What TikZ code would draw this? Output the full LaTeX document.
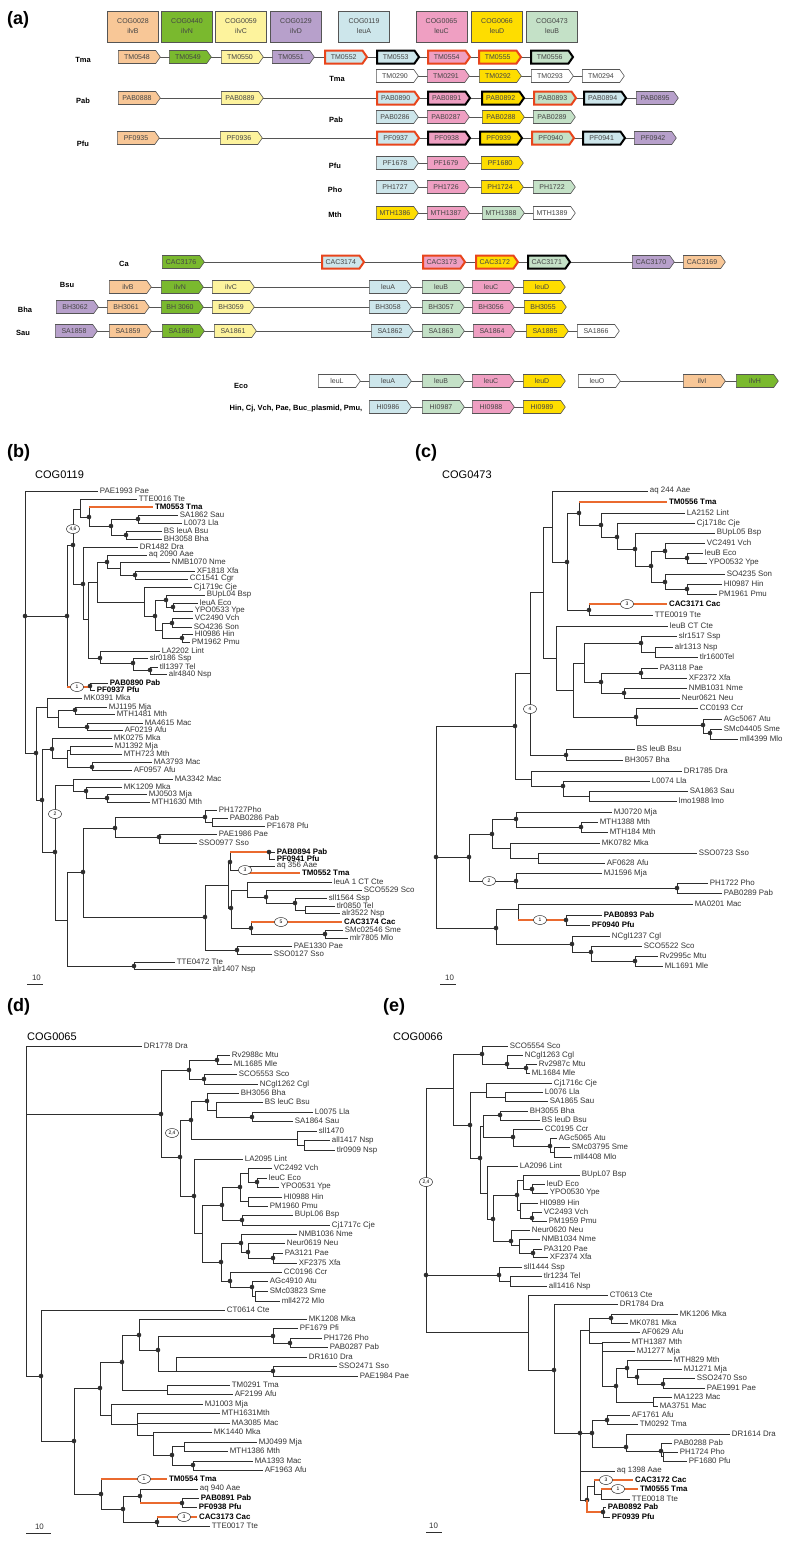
\documentclass[tikz,border=0pt]{standalone}
\usepackage{fontspec}
\setmainfont{Liberation Sans}
\usetikzlibrary{shapes.geometric,shapes.symbols}
\pgfdeclarelayer{bg}
\pgfsetlayers{bg,main}
\definecolor{cB}{HTML}{F8C797}
\definecolor{cN}{HTML}{7AB92E}
\definecolor{cC}{HTML}{FDF39D}
\definecolor{cD}{HTML}{B7A0CB}
\definecolor{cA}{HTML}{CDE6EB}
\definecolor{cL}{HTML}{EF9FC2}
\definecolor{cY}{HTML}{FEDD00}
\definecolor{cG}{HTML}{C4E1C7}
\definecolor{gred}{HTML}{E8451C}
\definecolor{lc}{HTML}{2E2E2E}
\definecolor{rc}{HTML}{EA6A2F}
\definecolor{gc}{HTML}{555555}
\definecolor{tg}{HTML}{444444}
\definecolor{tc}{HTML}{333333}
\tikzset{
 tl/.style={draw=lc, line width=0.8pt},
 rl/.style={draw=rc, line width=1.1pt},
 lab/.style={anchor=west, inner sep=0pt, xshift=1.5pt, font=\fontsize{7.9}{8}\selectfont, text=tc},
 labb/.style={anchor=west, inner sep=0pt, xshift=1.5pt, font=\fontsize{7.9}{8}\selectfont\bfseries, text=black},
 ell/.style={ellipse, draw=lc, fill=white, line width=0.5pt, inner sep=0.3pt, minimum width=13pt, minimum height=9pt, font=\fontsize{5}{5}\selectfont},
 gene/.style={signal, signal to=east, signal pointer angle=110, draw=gc, line width=0.6pt, minimum width=42pt, minimum height=13pt, inner sep=0pt, font=\fontsize{7}{7}\selectfont, text=tg, anchor=west},
 rb/.style={draw=gred, line width=2pt},
 bb/.style={draw=black, line width=2pt},
 rowl/.style={draw=gc, line width=0.8pt},
 glab/.style={font=\fontsize{7.5}{8}\selectfont\bfseries, inner sep=0pt},
 plab/.style={font=\fontsize{18}{18}\selectfont\bfseries, anchor=west, inner sep=0pt},
 cog/.style={font=\fontsize{11}{11}\selectfont, anchor=west, inner sep=0pt},
 legb/.style={draw=gc, line width=0.6pt, minimum width=51pt, minimum height=31pt, align=center, inner sep=0pt, font=\fontsize{7}{10}\selectfont, text=tg},
}
\newcommand\tlf[4]{\draw[tl] (#1,#3) -- (#2,#3) node[lab] {#4};}
\newcommand\tlb[4]{\draw[tl] (#1,#3) -- (#2,#3) node[labb] {#4};}
\newcommand\tlr[4]{\draw[rl] (#1,#3) -- (#2,#3) node[labb] {#4};}
\newcommand\tvl[3]{\draw[tl] (#1,#2) -- (#1,#3);}
\newcommand\thl[3]{\draw[tl] (#1,#3) -- (#2,#3);}
\newcommand\tdt[2]{\fill[lc] (#1,#2) circle (2.3pt);}
\newcommand\tel[3]{\node[ell] at (#1,#2) {#3};}
\newcommand\gn[6][]{\node[gene,fill=#5,#1] (#2) at (#3,#4) {#6};}
\newcommand\glink[2]{\begin{pgfonlayer}{bg}\draw[rowl] (#1.center) -- (#2.center);\end{pgfonlayer}}
\begin{document}
\begin{tikzpicture}[x=1pt,y=-1pt]
\path[use as bounding box] (0,0) rectangle (800,1548);
% ================= (a)
\node[plab] (pa) at (7,20) {(a)};
\node[legb,fill=cB] (L1) at (133,26.5) {COG0028\\ilvB};
\node[legb,fill=cN] (L2) at (187,26.5) {COG0440\\ilvN};
\node[legb,fill=cC] (L3) at (241,26.5) {COG0059\\ilvC};
\node[legb,fill=cD] (L4) at (296,26.5) {COG0129\\ilvD};
\node[legb,fill=cA] (L5) at (364,26.5) {COG0119\\leuA};
\node[legb,fill=cL] (L6) at (441.5,26.5) {COG0065\\leuC};
\node[legb,fill=cY] (L7) at (497,26.5) {COG0066\\leuD};
\node[legb,fill=cG] (L8) at (552,26.5) {COG0473\\leuB};
% row labels
\node[glab] (r1) at (83,60) {Tma};
\node[glab] (r2) at (337,79) {Tma};
\node[glab] (r3) at (83,101) {Pab};
\node[glab] (r4) at (336,120) {Pab};
\node[glab] (r5) at (83,144) {Pfu};
\node[glab] (r6) at (335,166) {Pfu};
\node[glab] (r7) at (335,190) {Pho};
\node[glab] (r8) at (335,215) {Mth};
\node[glab] (r9) at (124,264) {Ca};
\node[glab] (r10) at (67,285) {Bsu};
\node[glab] (r11) at (25,310) {Bha};
\node[glab] (r12) at (23,333) {Sau};
\node[glab] (r13) at (241,386) {Eco};
\node[glab] (r14) at (296,409) {Hin, Cj, Vch, Pae, Buc\_plasmid, Pmu,};
% Tma1
\gn{a1}{118}{57}{cB}{TM0548}
\gn{a2}{169}{57}{cN}{TM0549}
\gn{a3}{221}{57}{cC}{TM0550}
\gn{a4}{272}{57}{cD}{TM0551}
\gn[rb]{a5}{324}{57}{cA}{TM0552}
\gn[bb]{a6}{376}{57}{cA}{TM0553}
\gn[rb]{a7}{427}{57}{cL}{TM0554}
\gn[rb]{a8}{478}{57}{cY}{TM0555}
\gn[bb]{a9}{530}{57}{cG}{TM0556}
\glink{a1}{a9}
% Tma2
\gn{b1}{376}{76}{white}{TM0290}
\gn{b2}{427}{76}{cL}{TM0291}
\gn{b3}{479}{76}{cY}{TM0292}
\gn{b4}{531}{76}{white}{TM0293}
\gn{b5}{582}{76}{white}{TM0294}
\glink{b1}{b5}
% Pab1
\gn{c1}{118}{98}{cB}{PAB0888}
\gn{c2}{221}{98}{cC}{PAB0889}
\gn[rb]{c3}{376}{98}{cA}{PAB0890}
\gn[bb]{c4}{427}{98}{cL}{PAB0891}
\gn[bb]{c5}{481}{98}{cY}{PAB0892}
\gn[rb]{c6}{533}{98}{cG}{PAB0893}
\gn[bb]{c7}{583}{98}{cA}{PAB0894}
\gn{c8}{636}{98}{cD}{PAB0895}
\glink{c1}{c8}
% Pab2
\gn{d1}{376}{117}{cA}{PAB0286}
\gn{d2}{427}{117}{cL}{PAB0287}
\gn{d3}{482}{117}{cY}{PAB0288}
\gn{d4}{533}{117}{cG}{PAB0289}
\glink{d1}{d4}
% Pfu1
\gn{e1}{117}{138}{cB}{PF0935}
\gn{e2}{220}{138}{cC}{PF0936}
\gn[rb]{e3}{376}{138}{cA}{PF0937}
\gn[bb]{e4}{427}{138}{cL}{PF0938}
\gn[bb]{e5}{479}{138}{cY}{PF0939}
\gn[rb]{e6}{531}{138}{cG}{PF0940}
\gn[bb]{e7}{582}{138}{cA}{PF0941}
\gn{e8}{634}{138}{cD}{PF0942}
\glink{e1}{e8}
% Pfu2
\gn{f1}{376}{163}{cA}{PF1678}
\gn{f2}{427}{163}{cL}{PF1679}
\gn{f3}{481}{163}{cY}{PF1680}
\glink{f1}{f3}
% Pho
\gn{g1}{376}{187}{cA}{PH1727}
\gn{g2}{427}{187}{cL}{PH1726}
\gn{g3}{481}{187}{cY}{PH1724}
\gn{g4}{533}{187}{cG}{PH1722}
\glink{g1}{g4}
% Mth
\gn{h1}{376}{213}{cY}{MTH1386}
\gn{h2}{427}{213}{cL}{MTH1387}
\gn{h3}{482}{213}{cG}{MTH1388}
\gn{h4}{533}{213}{white}{MTH1389}
\glink{h1}{h4}
% Ca
\gn{i1}{162}{262}{cN}{CAC3176}
\gn[rb]{i2}{321}{262}{cA}{CAC3174}
\gn[rb]{i3}{422}{262}{cL}{CAC3173}
\gn[rb]{i4}{475}{262}{cY}{CAC3172}
\gn[bb]{i5}{527}{262}{cG}{CAC3171}
\gn{i6}{632}{262}{cD}{CAC3170}
\gn{i7}{683}{262}{cB}{CAC3169}
\glink{i1}{i7}
% Bsu
\gn{j1}{109}{287}{cB}{ilvB}
\gn{j2}{161}{287}{cN}{ilvN}
\gn{j3}{212}{287}{cC}{ilvC}
\gn{j4}{369}{287}{cA}{leuA}
\gn{j5}{422}{287}{cG}{leuB}
\gn{j6}{472}{287}{cL}{leuC}
\gn{j7}{523}{287}{cY}{leuD}
\glink{j1}{j7}
% Bha
\gn{k1}{56}{307}{cD}{BH3062}
\gn{k2}{107}{307}{cB}{BH3061}
\gn{k3}{161}{307}{cN}{BH 3060}
\gn{k4}{212}{307}{cC}{BH3059}
\gn{k5}{369}{307}{cA}{BH3058}
\gn{k6}{422}{307}{cG}{BH3057}
\gn{k7}{472}{307}{cL}{BH3056}
\gn{k8}{524}{307}{cY}{BH3055}
\glink{k1}{k8}
% Sau
\gn{l1}{55}{331}{cD}{SA1858}
\gn{l2}{109}{331}{cB}{SA1859}
\gn{l3}{162}{331}{cN}{SA1860}
\gn{l4}{214}{331}{cC}{SA1861}
\gn{l5}{371}{331}{cA}{SA1862}
\gn{l6}{422}{331}{cG}{SA1863}
\gn{l7}{473}{331}{cL}{SA1864}
\gn{l8}{526}{331}{cY}{SA1885}
\gn{l9}{577}{331}{white}{SA1866}
\glink{l1}{l9}
% Eco
\gn{m1}{318}{381}{white}{leuL}
\gn{m2}{369}{381}{cA}{leuA}
\gn{m3}{422}{381}{cG}{leuB}
\gn{m4}{472}{381}{cL}{leuC}
\gn{m5}{523}{381}{cY}{leuD}
\gn{m6}{578}{381}{white}{leuO}
\gn{m7}{683}{381}{cB}{ilvI}
\gn{m8}{736}{381}{cN}{ilvH}
\glink{m1}{m5}
\glink{m6}{m8}
% Hin
\gn{n1}{369}{407}{cA}{HI0986}
\gn{n2}{422}{407}{cG}{HI0987}
\gn{n3}{472}{407}{cL}{HI0988}
\gn{n4}{523}{407}{cY}{HI0989}
\glink{n1}{n4}
% ================= (b)
\node[plab] (pb) at (7,453) {(b)};
\node[cog] (cb) at (35,475) {COG0119};
\tvl{25}{491}{753}
\tlf{25}{98}{491}{PAE1993 Pae}
\thl{25}{67}{616}\tdt{25}{616}\tdt{67}{616}
\tvl{67}{545}{687}
\thl{67}{73}{545}\tdt{73}{545}
\draw[rl] (67,687) -- (90,687);\tdt{90}{686}
\tvl{90}{683}{690}
\tlb{90}{108}{683}{PAB0890 Pab}
\tlb{90}{95}{690}{PF0937 Pfu}
\tvl{73}{509}{584}
\thl{73}{80}{509}
\tvl{80}{499}{517}
\tlf{80}{137}{499}{TTE0016 Tte}
\thl{80}{89}{517}\tdt{89}{517}
\tvl{89}{507}{526}
\tlr{89}{153}{507}{TM0553 Tma}
\thl{89}{111}{526}\tdt{111}{526}
\tvl{111}{519}{535}
\thl{111}{138}{519}\tdt{138}{519}
\tvl{138}{515}{523}
\tlf{138}{178}{515}{SA1862 Sau}
\tlf{138}{182}{523}{L0073 Lla}
\thl{111}{126}{535}\tdt{126}{535}
\tvl{126}{531}{539}
\tlf{126}{162}{531}{BS leuA Bsu}
\tlf{126}{162}{539}{BH3058 Bha}
\thl{73}{83}{584}\tdt{83}{584}
\tvl{83}{547}{619}
\tlf{83}{138}{547}{DR1482 Dra}
\thl{83}{88}{619}
\tvl{88}{582}{658}
\thl{88}{97}{582}
\tvl{97}{562}{602}
\thl{97}{107}{562}\tdt{107}{562}
\tvl{107}{555}{568}
\tlf{107}{147}{555}{aq 2090 Aae}
\thl{107}{120}{568}
\tvl{120}{562}{575}
\tlf{120}{170}{562}{NMB1070 Nme}
\thl{120}{135}{575}\tdt{135}{575}
\tvl{135}{571}{579}
\tlf{135}{195}{571}{XF1818 Xfa}
\tlf{135}{188}{579}{CC1541 Cgr}
\thl{97}{144}{602}
\tvl{144}{587}{616}
\tlf{144}{192}{587}{Cj1719c Cje}
\thl{144}{155}{616}\tdt{155}{616}
\tvl{155}{600}{630}
\thl{155}{166}{600}\tdt{166}{600}
\tvl{166}{595}{607}
\tlf{166}{205}{595}{BUpL04 Bsp}
\thl{166}{173}{607}\tdt{173}{607}
\tvl{173}{603}{611}
\tlf{173}{198}{603}{leuA Eco}
\tlf{173}{193}{611}{YPO0533 Ype}
\thl{155}{162}{630}
\tvl{162}{623}{638}
\thl{162}{172}{623}\tdt{172}{623}
\tvl{172}{618}{627}
\tlf{172}{193}{618}{VC2490 Vch}
\tlf{172}{192}{627}{SO4236 Son}
\thl{162}{182}{638}\tdt{182}{638}
\tvl{182}{634}{642}
\tlf{182}{193}{634}{HI0986 Hin}
\tlf{182}{190}{642}{PM1962 Pmu}
\thl{88}{100}{658}\tdt{100}{658}
\tvl{100}{651}{663}
\tlf{100}{160}{651}{LA2202 Lint}
\thl{100}{133}{663}\tdt{133}{663}
\tvl{133}{658}{670}
\tlf{133}{148}{658}{slr0186 Ssp}
\thl{133}{150}{670}\tdt{150}{670}
\tvl{150}{667}{674}
\tlf{150}{158}{667}{tll1397 Tel}
\tlf{150}{167}{674}{alr4840 Nsp}
\thl{25}{36}{753}\tdt{36}{753}
\tvl{36}{707}{800}
\thl{36}{47}{707}
\tvl{47}{698}{717}
\tlf{47}{82}{698}{MK0391 Mka}
\thl{47}{58}{717}
\tvl{58}{710}{727}
\thl{58}{75}{710}\tdt{75}{710}
\tvl{75}{707}{714}
\tlf{75}{107}{707}{MJ1195 Mja}
\tlf{75}{115}{714}{MTH1481 Mth}
\thl{58}{87}{727}\tdt{87}{727}
\tvl{87}{723}{730}
\tlf{87}{143}{723}{MA4615 Mac}
\tlf{87}{123}{730}{AF0219 Afu}
\thl{36}{42}{800}\tdt{42}{800}
\tvl{42}{749}{852}
\thl{42}{52}{749}\tdt{52}{749}
\tvl{52}{738}{758}
\tlf{52}{112}{738}{MK0275 Mka}
\thl{52}{67}{758}
\tvl{67}{750}{767}
\thl{67}{70}{750}
\tvl{70}{746}{754}
\tlf{70}{113}{746}{MJ1392 Mja}
\tlf{70}{122}{754}{MTH723 Mth}
\thl{67}{92}{767}\tdt{92}{767}
\tvl{92}{762}{770}
\tlf{92}{152}{762}{MA3793 Mac}
\tlf{92}{132}{770}{AF0957 Afu}
\thl{42}{55}{852}\tdt{55}{852}
\tvl{55}{785}{920}
\thl{55}{73}{785}
\tvl{73}{779}{791}
\tlf{73}{173}{779}{MA3342 Mac}
\thl{73}{86}{791}\tdt{86}{791}
\tvl{86}{787}{798}
\tlf{86}{122}{787}{MK1209 Mka}
\thl{86}{107}{798}\tdt{107}{798}
\tvl{107}{794}{802}
\tlf{107}{147}{794}{MJ0503 Mja}
\tlf{107}{150}{802}{MTH1630 Mth}
\thl{55}{67}{920}
\tvl{67}{872}{966}
\thl{67}{83}{872}\tdt{83}{872}
\tvl{83}{828}{917}
\thl{83}{115}{828}\tdt{115}{828}
\tvl{115}{817}{837}
\thl{115}{205}{817}\tdt{205}{817}
\tvl{205}{810}{822}
\tlf{205}{217}{810}{PH1727Pho}
\thl{205}{212}{822}
\tvl{212}{818}{826}
\tlf{212}{228}{818}{PAB0286 Pab}
\tlf{212}{265}{826}{PF1678 Pfu}
\thl{115}{159}{837}\tdt{159}{837}
\tvl{159}{834}{843}
\tlf{159}{217}{834}{PAE1986 Pae}
\tlf{159}{197}{843}{SSO0977 Sso}
\thl{83}{205}{917}\tdt{205}{917}
\tvl{205}{885}{950}
\thl{205}{228}{885}
\tvl{228}{862}{908}
\thl{228}{230}{862}\tdt{230}{862}
\tvl{230}{852}{870}
\draw[rl] (230,852) -- (269,852);\tdt{269}{852}
\tvl{269}{852}{859}
\tlb{269}{275}{852}{PAB0894 Pab}
\tlb{269}{275}{859}{PF0941 Pfu}
\thl{230}{245}{870}
\tvl{245}{866}{873}
\tlf{245}{275}{866}{aq 356 Aae}
\tlr{245}{300}{873}{TM0552 Tma}
\thl{228}{231}{908}\tdt{231}{908}
\tvl{231}{890}{928}
\thl{231}{247}{890}
\tvl{247}{882}{897}
\tlf{247}{332}{882}{leuA 1 CT Cte}
\thl{247}{266}{897}\tdt{266}{897}
\tvl{266}{890}{903}
\tlf{266}{362}{890}{SCO5529 Sco}
\thl{266}{295}{903}\tdt{295}{903}
\tvl{295}{898}{910}
\tlf{295}{327}{898}{sll1564 Ssp}
\thl{295}{305}{910}
\tvl{305}{906}{913}
\tlf{305}{335}{906}{tlr0850 Tel}
\tlf{305}{340}{913}{alr3522 Nsp}
\thl{231}{251}{928}\tdt{251}{928}
\tvl{251}{922}{934}
\tlr{251}{342}{922}{CAC3174 Cac}
\thl{251}{325}{934}\tdt{325}{934}
\tvl{325}{930}{938}
\tlf{325}{343}{930}{SMc02546 Sme}
\tlf{325}{348}{938}{mlr7805 Mlo}
\thl{205}{237}{950}\tdt{237}{950}
\tvl{237}{946}{954}
\tlf{237}{292}{946}{PAE1330 Pae}
\tlf{237}{272}{954}{SSO0127 Sso}
\thl{67}{134}{966}\tdt{134}{966}
\tvl{134}{962}{969}
\tlf{134}{175}{962}{TTE0472 Tte}
\tlf{134}{211}{969}{alr1407 Nsp}
\tel{73}{529}{4,6}
\tel{77}{687}{1}
\tel{55}{814}{2}
\tel{245}{870}{3}
\tel{281}{922}{5}
\draw[tl] (27,984) -- (43,984);
\node[lab,anchor=south,xshift=0pt] (sb) at (35,981) {10};
% ================= (c)
\node[plab] (pc) at (415,453) {(c)};
\node[cog] (cc) at (442,475) {COG0473};
\tvl{436}{726}{928}\tdt{436}{857}
\thl{436}{515}{726}\tdt{515}{726}
\tvl{515}{673}{779}
\thl{515}{530}{673}
\tvl{530}{592}{755}
\thl{530}{543}{592}
\tvl{543}{527}{658}
\thl{543}{552}{527}
\tvl{552}{491}{562}
\tlf{552}{648}{491}{aq 244 Aae}
\thl{552}{567}{562}\tdt{567}{562}
\tvl{567}{513}{610}
\thl{567}{579}{513}\tdt{579}{513}
\tvl{579}{502}{525}
\tlr{579}{667}{502}{TM0556 Tma}
\thl{579}{601}{525}\tdt{601}{525}
\tvl{601}{513}{537}
\tlf{601}{685}{513}{LA2152 Lint}
\thl{601}{617}{537}\tdt{617}{537}
\tvl{617}{523}{549}
\tlf{617}{695}{523}{Cj1718c Cje}
\thl{617}{635}{549}\tdt{635}{549}
\tvl{635}{533}{566}
\tlf{635}{715}{533}{BUpL05 Bsp}
\thl{635}{651}{566}\tdt{651}{566}
\tvl{651}{551}{582}
\thl{651}{665}{551}\tdt{665}{551}
\tvl{665}{543}{558}
\tlf{665}{705}{543}{VC2491 Vch}
\thl{665}{687}{558}\tdt{687}{558}
\tvl{687}{553}{563}
\tlf{687}{703}{553}{leuB Eco}
\tlf{687}{707}{563}{YPO0532 Ype}
\thl{651}{665}{582}\tdt{665}{582}
\tvl{665}{574}{589}
\tlf{665}{725}{574}{SO4235 Son}
\thl{665}{687}{589}\tdt{687}{589}
\tvl{687}{584}{594}
\tlf{687}{722}{584}{HI0987 Hin}
\tlf{687}{717}{594}{PM1961 Pmu}
\thl{567}{589}{610}\tdt{589}{610}
\tvl{589}{604}{615}
\tlr{589}{667}{604}{CAC3171 Cac}
\tlf{589}{653}{615}{TTE0019 Tte}
\thl{543}{556}{658}
\tvl{556}{626}{690}
\tlf{556}{668}{626}{leuB CT Cte}
\thl{556}{573}{690}
\tvl{573}{663}{717}
\thl{573}{584}{663}
\tvl{584}{643}{682}
\thl{584}{641}{643}\tdt{641}{643}
\tvl{641}{636}{652}
\tlf{641}{677}{636}{slr1517 Ssp}
\thl{641}{655}{652}
\tvl{655}{647}{657}
\tlf{655}{673}{647}{alr1313 Nsp}
\tlf{655}{698}{657}{tlr1600Tel}
\thl{584}{601}{682}\tdt{601}{682}
\tvl{601}{673}{693}
\thl{601}{641}{673}\tdt{641}{673}
\tvl{641}{668}{678}
\tlf{641}{658}{668}{PA3118 Pae}
\tlf{641}{687}{678}{XF2372 Xfa}
\thl{601}{624}{693}\tdt{624}{693}
\tvl{624}{688}{698}
\tlf{624}{687}{688}{NMB1031 Nme}
\tlf{624}{680}{698}{Neur0621 Neu}
\thl{573}{636}{717}\tdt{636}{717}
\tvl{636}{708}{725}
\tlf{636}{698}{708}{CC0193 Ccr}
\thl{636}{703}{725}\tdt{703}{725}
\tvl{703}{719}{733}
\tlf{703}{722}{719}{AGc5067 Atu}
\thl{703}{710}{733}\tdt{710}{733}
\tvl{710}{729}{739}
\tlf{710}{722}{729}{SMc04405 Sme}
\tlf{710}{738}{739}{mll4399 Mlo}
\thl{530}{566}{755}\tdt{566}{755}
\tvl{566}{749}{760}
\tlf{566}{635}{749}{BS leuB Bsu}
\tlf{566}{623}{760}{BH3057 Bha}
\thl{515}{531}{779}
\tvl{531}{771}{786}
\tlf{531}{682}{771}{DR1785 Dra}
\thl{531}{563}{786}\tdt{563}{786}
\tvl{563}{781}{796}
\tlf{563}{650}{781}{L0074 Lla}
\thl{563}{589}{796}
\tvl{589}{791}{801}
\tlf{589}{688}{791}{SA1863 Sau}
\tlf{589}{677}{801}{lmo1988 lmo}
\thl{436}{469}{857}\tdt{469}{857}
\tvl{469}{834}{881}
\thl{469}{492}{834}\tdt{492}{834}
\tvl{492}{819}{848}
\thl{492}{516}{819}\tdt{516}{819}
\tvl{516}{812}{827}
\tlf{516}{612}{812}{MJ0720 Mja}
\thl{516}{581}{827}\tdt{581}{827}
\tvl{581}{822}{832}
\tlf{581}{598}{822}{MTH1388 Mth}
\tlf{581}{608}{832}{MTH184 Mth}
\thl{492}{510}{848}
\tvl{510}{843}{858}
\tlf{510}{600}{843}{MK0782 Mka}
\thl{510}{538}{858}
\tvl{538}{853}{863}
\tlf{538}{697}{853}{SSO0723 Sso}
\tlf{538}{605}{863}{AF0628 Afu}
\thl{469}{516}{881}\tdt{516}{881}
\tvl{516}{873}{888}
\tlf{516}{602}{873}{MJ1596 Mja}
\thl{516}{677}{888}\tdt{677}{888}
\tvl{677}{883}{893}
\tlf{677}{708}{883}{PH1722 Pho}
\tlf{677}{722}{893}{PAB0289 Pab}
\thl{436}{496}{928}\tdt{496}{928}
\tvl{496}{909}{944}
\thl{496}{518}{909}
\tvl{518}{904}{920}
\tlf{518}{693}{904}{MA0201 Mac}
\draw[rl] (518,920) -- (566,920);\tdt{566}{920}
\tvl{566}{915}{925}
\tlb{566}{602}{915}{PAB0893 Pab}
\tlb{566}{590}{925}{PF0940 Pfu}
\thl{496}{572}{944}\tdt{572}{944}
\tvl{572}{936}{952}
\tlf{572}{610}{936}{NCgl1237 Cgl}
\thl{572}{591}{952}\tdt{591}{952}
\tvl{591}{946}{961}
\tlf{591}{642}{946}{SCO5522 Sco}
\thl{591}{635}{961}\tdt{635}{961}
\tvl{635}{956}{966}
\tlf{635}{658}{956}{Rv2995c Mtu}
\tlf{635}{663}{966}{ML1691 Mle}
\tel{530}{709}{4}
\tel{627}{604}{3}
\tel{489}{881}{2}
\tel{540}{920}{1}
\draw[tl] (440,984) -- (456,984);
\node[lab,anchor=south,xshift=0pt] (sc) at (448,981) {10};
% ================= (d)
\node[plab] (pd) at (7,1007) {(d)};
\node[cog] (cd) at (27,1037) {COG0065};
\tvl{26}{1046}{1376}
\tlf{26}{142}{1046}{DR1778 Dra}
\thl{26}{161}{1114}\tdt{161}{1114}
\tvl{161}{1070}{1157}
\thl{161}{189}{1070}\tdt{189}{1070}
\tvl{189}{1060}{1079}
\thl{189}{217}{1060}\tdt{217}{1060}
\tvl{217}{1055}{1064}
\tlf{217}{230}{1055}{Rv2988c Mtu}
\tlf{217}{232}{1064}{ML1685 Mle}
\thl{189}{204}{1079}\tdt{204}{1079}
\tvl{204}{1074}{1084}
\tlf{204}{237}{1074}{SCO5553 Sco}
\tlf{204}{258}{1084}{NCgl1262 Cgl}
\thl{161}{180}{1157}\tdt{180}{1157}
\tvl{180}{1120}{1196}
\thl{180}{191}{1120}\tdt{191}{1120}
\tvl{191}{1101}{1139}
\thl{191}{207}{1101}\tdt{207}{1101}
\tvl{207}{1093}{1110}
\tlf{207}{239}{1093}{BH3056 Bha}
\thl{207}{216}{1110}
\tvl{216}{1102}{1117}
\tlf{216}{263}{1102}{BS leuC Bsu}
\thl{216}{252}{1117}\tdt{252}{1117}
\tvl{252}{1112}{1121}
\tlf{252}{313}{1112}{L0075 Lla}
\tlf{252}{293}{1121}{SA1864 Sau}
\thl{191}{297}{1139}
\tvl{297}{1131}{1145}
\tlf{297}{317}{1131}{sll1470}
\thl{297}{304}{1145}
\tvl{304}{1140}{1150}
\tlf{304}{330}{1140}{all1417 Nsp}
\tlf{304}{335}{1150}{tlr0909 Nsp}
\thl{180}{194}{1196}\tdt{194}{1196}
\tvl{194}{1159}{1233}
\tlf{194}{243}{1159}{LA2095 Lint}
\thl{194}{202}{1233}
\tvl{202}{1205}{1262}
\thl{202}{222}{1205}\tdt{222}{1205}
\tvl{222}{1187}{1220}
\thl{222}{240}{1187}\tdt{240}{1187}
\tvl{240}{1173}{1201}
\thl{240}{248}{1173}
\tvl{248}{1168}{1182}
\tlf{248}{272}{1168}{VC2492 Vch}
\thl{248}{257}{1182}\tdt{257}{1182}
\tvl{257}{1178}{1187}
\tlf{257}{267}{1178}{leuC Eco}
\tlf{257}{279}{1187}{YPO0531 Ype}
\thl{240}{248}{1201}
\tvl{248}{1197}{1206}
\tlf{248}{282}{1197}{HI0988 Hin}
\tlf{248}{268}{1206}{PM1960 Pmu}
\thl{222}{242}{1220}\tdt{242}{1220}
\tvl{242}{1215}{1225}
\tlf{242}{293}{1215}{BUpL06 Bsp}
\tlf{242}{330}{1225}{Cj1717c Cje}
\thl{202}{221}{1262}\tdt{221}{1262}
\tvl{221}{1243}{1281}
\thl{221}{241}{1243}\tdt{241}{1243}
\tvl{241}{1234}{1252}
\tlf{241}{297}{1234}{NMB1036 Nme}
\thl{241}{248}{1252}\tdt{248}{1252}
\tvl{248}{1243}{1258}
\tlf{248}{285}{1243}{Neur0619 Neu}
\thl{248}{273}{1258}\tdt{273}{1258}
\tvl{273}{1253}{1263}
\tlf{273}{283}{1253}{PA3121 Pae}
\tlf{273}{297}{1263}{XF2375 Xfa}
\thl{221}{230}{1281}\tdt{230}{1281}
\tvl{230}{1272}{1287}
\tlf{230}{282}{1272}{CC0196 Ccr}
\thl{230}{252}{1287}\tdt{252}{1287}
\tvl{252}{1281}{1296}
\tlf{252}{268}{1281}{AGc4910 Atu}
\thl{252}{255}{1296}
\tvl{255}{1291}{1301}
\tlf{255}{268}{1291}{SMc03823 Sme}
\tlf{255}{280}{1301}{mll4272 Mlo}
\thl{26}{41}{1376}\tdt{41}{1376}
\tvl{41}{1310}{1441}
\tlf{41}{225}{1310}{CT0614 Cte}
\thl{41}{74}{1441}\tdt{74}{1441}
\tvl{74}{1388}{1494}
\thl{74}{100}{1388}\tdt{100}{1388}
\tvl{100}{1362}{1415}
\thl{100}{122}{1362}\tdt{122}{1362}
\tvl{122}{1335}{1390}
\thl{122}{139}{1335}\tdt{139}{1335}
\tvl{139}{1319}{1350}
\tlf{139}{307}{1319}{MK1208 Mka}
\thl{139}{158}{1350}\tdt{158}{1350}
\tvl{158}{1336}{1371}
\thl{158}{273}{1336}\tdt{273}{1336}
\tvl{273}{1328}{1343}
\tlf{273}{298}{1328}{PF1679 Pfi}
\thl{273}{290}{1343}\tdt{290}{1343}
\tvl{290}{1338}{1347}
\tlf{290}{322}{1338}{PH1726 Pho}
\tlf{290}{328}{1347}{PAB0287 Pab}
\thl{158}{176}{1371}
\tvl{176}{1357}{1371}
\tlf{176}{307}{1357}{DR1610 Dra}
\thl{176}{273}{1371}\tdt{273}{1371}
\tvl{273}{1366}{1376}
\tlf{273}{337}{1366}{SSO2471 Sso}
\tlf{273}{358}{1376}{PAE1984 Pae}
\thl{122}{167}{1390}
\tvl{167}{1385}{1394}
\tlf{167}{230}{1385}{TM0291 Tma}
\tlf{167}{233}{1394}{AF2199 Afu}
\thl{100}{111}{1415}
\tvl{111}{1404}{1424}
\tlf{111}{203}{1404}{MJ1003 Mja}
\thl{111}{137}{1424}
\tvl{137}{1413}{1435}
\tlf{137}{220}{1413}{MTH1631Mth}
\tlf{137}{230}{1423}{MA3085 Mac}
\thl{137}{153}{1435}
\tvl{153}{1432}{1455}
\tlf{153}{212}{1432}{MK1440 Mka}
\thl{153}{172}{1455}\tdt{172}{1455}
\tvl{172}{1446}{1465}
\thl{172}{184}{1446}
\tvl{184}{1442}{1451}
\tlf{184}{257}{1442}{MJ0499 Mja}
\tlf{184}{228}{1451}{MTH1386 Mth}
\thl{172}{193}{1465}\tdt{193}{1465}
\tvl{193}{1461}{1470}
\tlf{193}{253}{1461}{MA1393 Mac}
\tlf{193}{263}{1470}{AF1963 Afu}
\thl{74}{101}{1494}\tdt{101}{1494}
\tvl{101}{1479}{1509}
\tlr{101}{167}{1479}{TM0554 Tma}
\thl{101}{123}{1509}\tdt{123}{1509}
\tvl{123}{1496}{1522}
\thl{123}{140}{1496}\tdt{140}{1496}
\tvl{140}{1489}{1503}
\tlf{140}{198}{1489}{aq 940 Aae}
\draw[rl] (140,1503) -- (182,1503);\tdt{182}{1503}
\tvl{182}{1498}{1507}
\tlb{182}{199}{1498}{PAB0891 Pab}
\tlb{182}{197}{1507}{PF0938 Pfu}
\thl{123}{157}{1522}\tdt{157}{1522}
\tvl{157}{1517}{1526}
\tlr{157}{197}{1517}{CAC3173 Cac}
\tlf{157}{210}{1526}{TTE0017 Tte}
\tel{172}{1133}{2,4}
\tel{144}{1479}{1}
\tel{184}{1517}{3}
\draw[tl] (26,1533) -- (51,1533);
\node[lab,anchor=south,xshift=0pt] (sd) at (38,1530) {10};
% ================= (e)
\node[plab] (pe) at (383,1007) {(e)};
\node[cog] (ce) at (393,1037) {COG0066};
\tvl{426}{1088}{1332}\tdt{426}{1275}
\thl{426}{453}{1088}
\tvl{453}{1054}{1125}
\thl{453}{482}{1054}\tdt{482}{1054}
\tvl{482}{1046}{1064}
\tlf{482}{508}{1046}{SCO5554 Sco}
\thl{482}{507}{1064}\tdt{507}{1064}
\tvl{507}{1055}{1068}
\tlf{507}{523}{1055}{NCgl1263 Cgl}
\thl{507}{526}{1068}\tdt{526}{1068}
\tvl{526}{1064}{1073}
\tlf{526}{537}{1064}{Rv2987c Mtu}
\tlf{526}{530}{1073}{ML1684 Mle}
\thl{453}{470}{1125}\tdt{470}{1125}
\tvl{470}{1092}{1158}
\thl{470}{486}{1092}
\tvl{486}{1083}{1097}
\tlf{486}{552}{1083}{Cj1716c Cje}
\thl{486}{505}{1097}
\tvl{505}{1092}{1101}
\tlf{505}{543}{1092}{L0076 Lla}
\tlf{505}{548}{1101}{SA1865 Sau}
\thl{470}{480}{1158}\tdt{480}{1158}
\tvl{480}{1126}{1193}
\thl{480}{483}{1126}
\tvl{483}{1115}{1137}
\thl{483}{500}{1115}\tdt{500}{1115}
\tvl{500}{1111}{1120}
\tlf{500}{528}{1111}{BH3055 Bha}
\tlf{500}{540}{1120}{BS leuD Bsu}
\thl{483}{513}{1137}\tdt{513}{1137}
\tvl{513}{1129}{1146}
\tlf{513}{543}{1129}{CC0195 Ccr}
\thl{513}{550}{1146}\tdt{550}{1146}
\tvl{550}{1138}{1152}
\tlf{550}{557}{1138}{AGc5065 Atu}
\thl{550}{554}{1152}
\tvl{554}{1147}{1157}
\tlf{554}{570}{1147}{SMc03795 Sme}
\tlf{554}{572}{1157}{mll4408 Mlo}
\thl{480}{487}{1193}
\tvl{487}{1166}{1219}
\tlf{487}{518}{1166}{LA2096 Lint}
\thl{487}{493}{1219}\tdt{493}{1219}
\tvl{493}{1195}{1241}
\thl{493}{517}{1195}\tdt{517}{1195}
\tvl{517}{1180}{1210}
\thl{517}{523}{1180}
\tvl{523}{1175}{1189}
\tlf{523}{580}{1175}{BUpL07 Bsp}
\thl{523}{532}{1189}\tdt{532}{1189}
\tvl{532}{1184}{1193}
\tlf{532}{545}{1184}{leuD Eco}
\tlf{532}{548}{1193}{YPO0530 Ype}
\thl{517}{520}{1210}
\tvl{520}{1203}{1218}
\tlf{520}{538}{1203}{HI0989 Hin}
\thl{520}{532}{1218}\tdt{532}{1218}
\tvl{532}{1212}{1221}
\tlf{532}{542}{1212}{VC2493 Vch}
\tlf{532}{547}{1221}{PM1959 Pmu}
\thl{493}{511}{1241}\tdt{511}{1241}
\tvl{511}{1230}{1245}
\tlf{511}{530}{1230}{Neur0620 Neu}
\thl{511}{519}{1245}
\tvl{519}{1239}{1253}
\tlf{519}{540}{1239}{NMB1034 Nme}
\thl{519}{533}{1253}\tdt{533}{1253}
\tvl{533}{1249}{1257}
\tlf{533}{542}{1249}{PA3120 Pae}
\tlf{533}{548}{1257}{XF2374 Xfa}
\thl{426}{499}{1275}\tdt{499}{1275}
\tvl{499}{1267}{1281}
\tlf{499}{522}{1267}{sll1444 Ssp}
\thl{499}{510}{1281}
\tvl{510}{1276}{1286}
\tlf{510}{542}{1276}{tlr1234 Tel}
\tlf{510}{547}{1286}{all1416 Nsp}
\thl{426}{528}{1332}
\tvl{528}{1295}{1370}
\tlf{528}{608}{1295}{CT0613 Cte}
\thl{528}{554}{1370}\tdt{554}{1370}
\tvl{554}{1304}{1433}
\tlf{554}{618}{1304}{DR1784 Dra}
\thl{554}{580}{1433}\tdt{580}{1433}
\tvl{580}{1330}{1500}
\thl{580}{589}{1330}
\tvl{589}{1318}{1343}
\thl{589}{611}{1318}\tdt{611}{1318}
\tvl{611}{1314}{1323}
\tlf{611}{678}{1314}{MK1206 Mka}
\tlf{611}{628}{1323}{MK0781 Mka}
\tlf{589}{640}{1332}{AF0629 Afu}
\thl{589}{602}{1343}
\tvl{602}{1342}{1386}
\tlf{602}{630}{1342}{MTH1387 Mth}
\tlf{602}{635}{1351}{MJ1277 Mja}
\thl{602}{616}{1386}\tdt{616}{1386}
\tvl{616}{1368}{1402}
\thl{616}{627}{1368}\tdt{627}{1368}
\tvl{627}{1360}{1377}
\tlf{627}{672}{1360}{MTH829 Mth}
\thl{627}{637}{1377}\tdt{637}{1377}
\tvl{637}{1369}{1384}
\tlf{637}{682}{1369}{MJ1271 Mja}
\thl{637}{663}{1384}\tdt{663}{1384}
\tvl{663}{1378}{1388}
\tlf{663}{695}{1378}{SSO2470 Sso}
\tlf{663}{705}{1388}{PAE1991 Pae}
\thl{616}{653}{1402}
\tvl{653}{1397}{1406}
\tlf{653}{672}{1397}{MA1223 Mac}
\tlf{653}{658}{1406}{MA3751 Mac}
\thl{580}{592}{1433}\tdt{592}{1433}
\tvl{592}{1420}{1447}
\thl{592}{607}{1420}\tdt{607}{1420}
\tvl{607}{1415}{1424}
\tlf{607}{630}{1415}{AF1761 Afu}
\tlf{607}{638}{1424}{TM0292 Tma}
\thl{592}{626}{1447}\tdt{626}{1447}
\tvl{626}{1434}{1451}
\tlf{626}{730}{1434}{DR1614 Dra}
\thl{626}{661}{1451}\tdt{661}{1451}
\tvl{661}{1443}{1456}
\tlf{661}{672}{1443}{PAB0288 Pab}
\thl{661}{663}{1456}
\tvl{663}{1452}{1461}
\tlf{663}{678}{1452}{PH1724 Pho}
\tlf{663}{687}{1461}{PF1680 Pfu}
\tlf{580}{615}{1471}{aq 1398 Aae}
\thl{580}{587}{1500}\tdt{587}{1500}
\tvl{587}{1486}{1500}
\thl{587}{594}{1486}
\tvl{594}{1480}{1494}
\tlr{594}{633}{1480}{CAC3172 Cac}
\thl{594}{601}{1494}
\tvl{601}{1489}{1499}
\tlr{601}{638}{1489}{TM0555 Tma}
\tlf{601}{630}{1499}{TTE0018 Tte}
\draw[rl] (587,1500) -- (587,1512) -- (603,1512);\tdt{603}{1512}
\tvl{603}{1507}{1517}
\tlb{603}{606}{1507}{PAB0892 Pab}
\tlb{603}{610}{1517}{PF0939 Pfu}
\tel{426}{1182}{2,4}
\tel{606}{1480}{3}
\tel{618}{1489}{1}
\draw[tl] (426,1532) -- (442,1532);
\node[lab,anchor=south,xshift=0pt] (se) at (432,1529) {10};
\end{tikzpicture}
\end{document}
